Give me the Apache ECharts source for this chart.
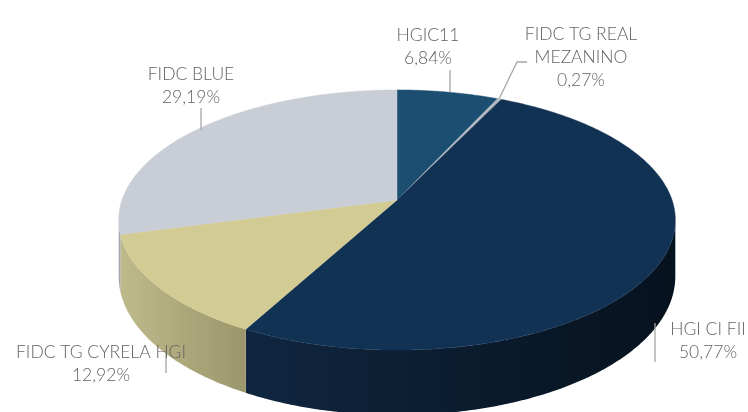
<!DOCTYPE html>
<html>
<head>
<meta charset="utf-8">
<script src="https://cdn.jsdelivr.net/npm/echarts@6/dist/echarts.min.js"></script>
<style>
  html, body { margin: 0; padding: 0; background: #fff; }
  #chart { width: 748px; height: 412px; }
</style>
</head>
<body>
<div id="chart"></div>
<script>
// data
const categories = ['HGIC11', 'FIDC TG REAL MEZANINO', 'HGI CI FII', 'FIDC TG CYRELA HGI', 'FIDC BLUE'];
const shares = [6.84, 0.27, 50.77, 12.92, 29.19];
const labelNames = ['HGIC11', 'FIDC TG REAL\nMEZANINO', 'HGI CI FII', 'FIDC TG CYRELA HGI', 'FIDC BLUE'];

// styles
const topColors = ['#1b4e71', '#b3bac3', '#123254', '#d2cc94', '#c9ced6'];
const sideColors = [
  ['#163f5c', '#10304a'],
  ['#9aa0a8', '#8a9098'],
  ['#102640', '#06121e'],
  ['#bfba8b', '#9b976b'],
  ['#a9aeb6', '#9aa0a8']
];

// label layout (center of text block + leader line)
const labelPos = [[428, 47], [581, 57], [708, 341], [101, 364], [191, 86]];
const leaders = [
  [[450, 70], [450, 92]],
  [[527, 62], [517, 62], [499, 99]],
  [[655, 323], [655, 362]],
  [[166, 352], [166, 373]],
  [[201, 108], [201, 130]]
];

// pie geometry, tilted disc with a bit of perspective
const geo = { cx: 397, cy: 200, a: 275, b: 127, k: 0.154, depth: 55 };

const total = shares.reduce((s, v) => s + v, 0);
const starts = [];
shares.reduce((acc, v, i) => { starts[i] = acc; return acc + v; }, 0);

function project(phi, bottom) {
  const u = Math.sin(phi), v = -Math.cos(phi);
  const d = 1 - geo.k * v;
  return [geo.cx + geo.a * u / d, geo.cy + geo.b * v / d + (bottom ? geo.depth / d : 0)];
}

function arcPoints(p0, p1, bottom) {
  const pts = [];
  const n = Math.max(2, Math.ceil((p1 - p0) / 0.01));
  for (let j = 0; j <= n; j++) {
    pts.push(project(p0 + (p1 - p0) * j / n, bottom));
  }
  return pts;
}

function sliceAngles(i) {
  return [starts[i] / total * Math.PI * 2, (starts[i] + shares[i]) / total * Math.PI * 2];
}

const visFrom = Math.acos(-geo.k);
const visTo = Math.PI * 2 - visFrom;

const seriesData = shares.map((v, i) => ({ name: categories[i], value: [v, i] }));

const chart = echarts.init(document.getElementById('chart'));
chart.setOption({
  animation: false,
  series: [
    {
      // side walls
      type: 'custom',
      coordinateSystem: 'none',
      z: 1,
      silent: true,
      data: seriesData,
      renderItem: function (params, api) {
        const i = api.value(1);
        const [p0, p1] = sliceAngles(i);
        const a0 = Math.max(p0, visFrom), a1 = Math.min(p1, visTo);
        if (a1 <= a0) return { type: 'group', children: [] };
        const pts = arcPoints(a0, a1, false).concat(arcPoints(a0, a1, true).reverse());
        return {
          type: 'polygon',
          shape: { points: pts },
          style: {
            fill: new echarts.graphic.LinearGradient(0, 0, 1, 0, [
              { offset: 0, color: sideColors[i][0] },
              { offset: 1, color: sideColors[i][1] }
            ])
          }
        };
      }
    },
    {
      // top faces
      type: 'custom',
      coordinateSystem: 'none',
      z: 2,
      data: seriesData,
      renderItem: function (params, api) {
        const i = api.value(1);
        const [p0, p1] = sliceAngles(i);
        const pts = [[geo.cx, geo.cy]].concat(arcPoints(p0, p1, false));
        return {
          type: 'polygon',
          shape: { points: pts },
          style: { fill: topColors[i], stroke: topColors[i], lineWidth: 0.5 }
        };
      }
    },
    {
      // labels + leader lines
      type: 'custom',
      coordinateSystem: 'none',
      z: 3,
      silent: true,
      data: seriesData,
      renderItem: function (params, api) {
        const i = api.value(1);
        const pct = api.value(0).toFixed(2).replace('.', ',') + '%';
        return {
          type: 'group',
          children: [
            {
              type: 'polyline',
              shape: { points: leaders[i] },
              style: { stroke: '#a6a6a6', lineWidth: 1.3, fill: null }
            },
            {
              type: 'text',
              x: labelPos[i][0],
              y: labelPos[i][1],
              style: {
                text: labelNames[i] + '\n' + pct,
                fill: '#636363',
                font: '300 17.5px Lato',
                lineHeight: 23,
                align: 'center',
                verticalAlign: 'middle'
              }
            }
          ]
        };
      }
    }
  ]
});
</script>
</body>
</html>
